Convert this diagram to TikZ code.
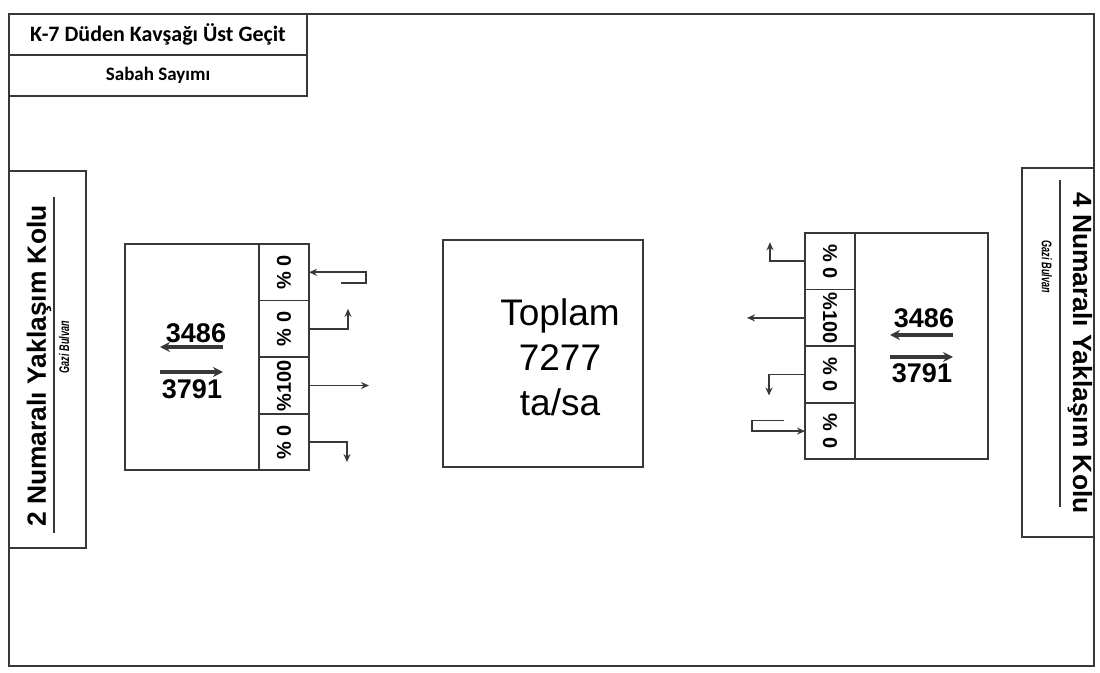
\documentclass[tikz,border=0pt]{standalone}
\usepackage{fontspec}
\usepackage{graphicx}
\setmainfont{Liberation Sans}
\newfontfamily\calfont{Carlito}
\newfontfamily\roadfont[FakeStretch=0.65]{Liberation Sans}
\usetikzlibrary{calc, arrows.meta, positioning}
\definecolor{ink}{gray}{0.22}

\begin{document}
\begin{tikzpicture}[x=0.5pt, y=-0.5pt, line width=0.9pt,
  frame/.style={draw=ink, inner sep=0pt, outer sep=0pt},
  head/.style={frame, minimum width=149pt, minimum height=20.5pt,
    font=\calfont\bfseries\fontsize{11}{12}\selectfont},
  cell/.style={frame, minimum width=25pt, minimum height=28.3pt,
    font=\bfseries\fontsize{10}{12}\selectfont},
  armbox/.style={frame, minimum height=113.2pt},
  count/.style={font=\bfseries\fontsize{13.5}{15}\selectfont, inner sep=0pt},
  sidename/.style={font=\bfseries\fontsize{13.2}{15}\selectfont, inner sep=0pt},
  road/.style={font=\roadfont\bfseries\itshape\fontsize{7}{8}\selectfont, inner sep=0pt},
  flow/.style={draw=ink, line width=1.8pt, -{Stealth[length=5pt, width=5pt]}},
  turn/.style={draw=ink, line width=0.8pt, -{Stealth[length=4pt, width=3.5pt]}}]
  \useasboundingbox (0,0) rectangle (1100,673);
  \draw[ink] (9,14) rectangle (1094,666);
  \node[head, anchor=north west] (title) at (9,14) {K-7 Düden Kavşağı Üst Geçit};
  \node[head, below=0pt of title, font=\calfont\bfseries\fontsize{9.5}{12}\selectfont] (session) {Sabah Sayımı};

  \node[frame, anchor=north west, minimum width=38.5pt, minimum height=188.5pt] (lside) at (9,171) {};
  \node[sidename, rotate=90] (lname) at (39,366) {2 Numaralı Yaklaşım Kolu};
  \node[road, rotate=90] (lroad) at (64,347) {Gazi Bulvarı};
  \draw[ink] (54,197) -- (54,533);
  \node[frame, anchor=north east, minimum width=36pt, minimum height=184.5pt] (rside) at (1094,168) {};
  \node[sidename, rotate=-90] (rname) at (1080,353) {4 Numaralı Yaklaşım Kolu};
  \node[road, rotate=-90] (rroad) at (1047,267) {Gazi Bulvarı};
  \draw[ink] (1060,180) -- (1060,507);

  \node[armbox, minimum width=67pt, anchor=north west] (lmain) at (125,244) {};
  \node[cell, anchor=north west] (l1) at (lmain.north east) {\rotatebox{90}{\% 0}};
  \node[cell, below=0pt of l1] (l2) {\rotatebox{90}{\% 0}};
  \node[cell, below=0pt of l2] (l3) {\rotatebox{90}{\%100}};
  \node[cell, below=0pt of l3] (l4) {\rotatebox{90}{\% 0}};
  \node[count] (lout) at (196,333) {3486};
  \node[count] (lin) at (192,389) {3791};
  \coordinate (lout-a) at (223,347);
  \coordinate (lout-b) at (160,347);
  \coordinate (lin-a) at (160,372);
  \coordinate (lin-b) at (223,372);
  \draw[flow] (lout-a) -- (lout-b);
  \draw[flow] (lin-a) -- (lin-b);
  \coordinate (l1s) at ($(l1.east)+(32,10.5)$);
  \coordinate (l2e) at ($(l2.east)+(39,-20)$);
  \coordinate (l3e) at ($(l3.east)+(60,0)$);
  \coordinate (l4e) at ($(l4.east)+(38,20)$);
  \draw[turn] (l1s) -- ++(25,0) |- (l1.east);
  \draw[turn] (l2.east) -| (l2e);
  \draw[turn] (l3.east) -- (l3e);
  \draw[turn] (l4.east) -| (l4e);

  \node[frame, anchor=north west, minimum width=100pt, minimum height=113.5pt] (total) at (443,240) {};
  \node[font=\fontsize{18.5}{22.5}\selectfont, align=center, inner sep=0pt] (total-text) at (560,357) {Toplam\\7277\\ta/sa};

  \node[armbox, minimum width=66.5pt, anchor=north east] (rmain) at (988,233) {};
  \node[cell, anchor=north east] (r1) at (rmain.north west) {\rotatebox{-90}{\% 0}};
  \node[cell, below=0pt of r1] (r2) {\rotatebox{-90}{\%100}};
  \node[cell, below=0pt of r2] (r3) {\rotatebox{-90}{\% 0}};
  \node[cell, below=0pt of r3] (r4) {\rotatebox{-90}{\% 0}};
  \node[count] (rout) at (924,318) {3486};
  \node[count] (rin) at (922,373) {3791};
  \coordinate (rout-a) at (953,335);
  \coordinate (rout-b) at (890,335);
  \coordinate (rin-a) at (890,357);
  \coordinate (rin-b) at (953,357);
  \draw[flow] (rout-a) -- (rout-b);
  \draw[flow] (rin-a) -- (rin-b);
  \coordinate (r1e) at ($(r1.west)+(-35,-19)$);
  \coordinate (r2e) at ($(r2.west)+(-58,0)$);
  \coordinate (r3e) at ($(r3.west)+(-36,21)$);
  \coordinate (r4s) at ($(r4.west)+(-21,-10.5)$);
  \draw[turn] (r1.west) -| (r1e);
  \draw[turn] (r2.west) -- (r2e);
  \draw[turn] (r3.west) -| (r3e);
  \draw[turn] (r4s) -- ++(-32,0) |- (r4.west);
\end{tikzpicture}
\end{document}
